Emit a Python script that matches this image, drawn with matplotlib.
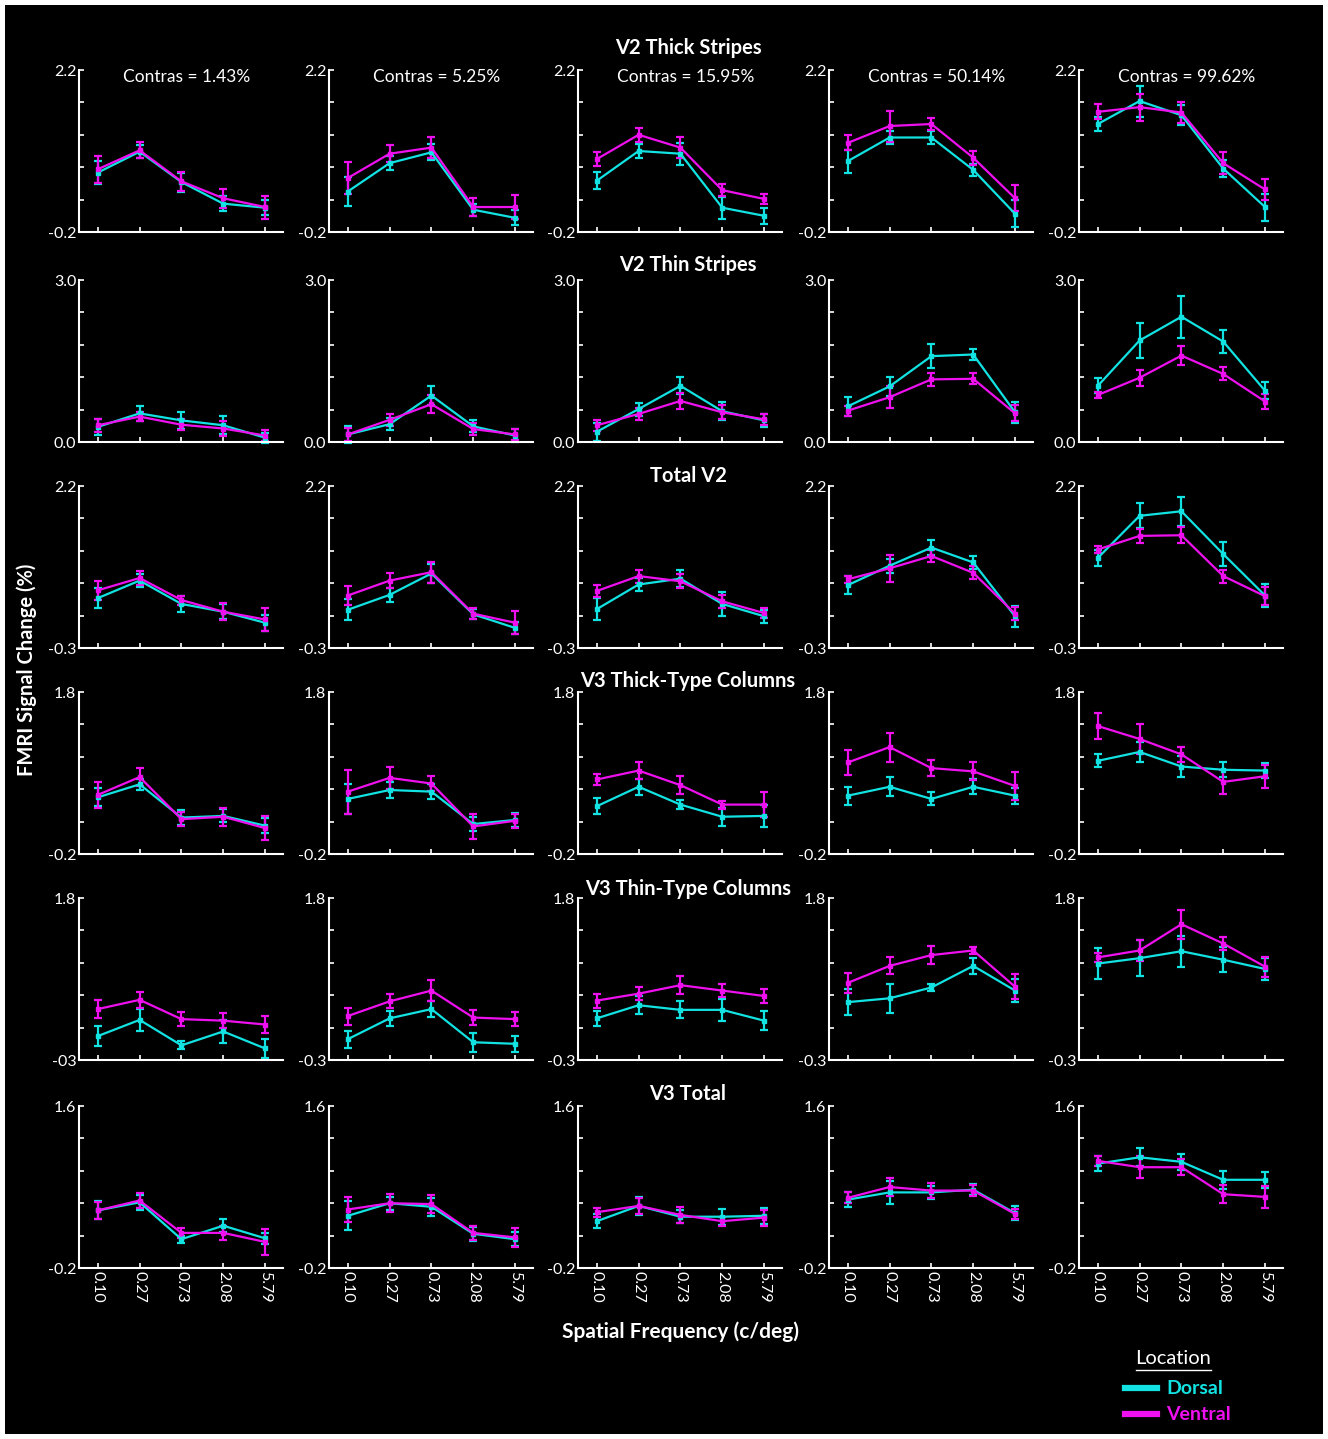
import numpy as np
import matplotlib
matplotlib.use('Agg')
import matplotlib.pyplot as plt
from matplotlib.patches import Rectangle
from matplotlib.lines import Line2D

plt.rcParams['font.family'] = ['Lato', 'DejaVu Sans']

# --------------------- data ---------------------
FREQ_LABELS = ['0.10', '0.27', '0.73', '2.08', '5.79']
CONTRASTS = ['1.43%', '5.25%', '15.95%', '50.14%', '99.62%']
ROW_TITLES = ['V2 Thick Stripes', 'V2 Thin Stripes', 'Total V2',
              'V3 Thick-Type Columns', 'V3 Thin-Type Columns', 'V3 Total']
Y_LIMITS = [(-0.2, 2.2), (0.0, 3.0), (-0.3, 2.2), (-0.2, 1.8), (-0.3, 1.8), (-0.2, 1.6)]
Y_LABELS = [('-0.2', '2.2'), ('0.0', '3.0'), ('-0.3', '2.2'),
            ('-0.2', '1.8'), ('-0.3', '1.8'), ('-0.2', '1.6')]

# one row per contrast, one value per spatial frequency
V2_THICK_DORSAL = [[0.68, 0.99, 0.54, 0.22, 0.16],
                   [0.40, 0.82, 0.98, 0.13, 0.01],
                   [0.56, 1.00, 0.96, 0.16, 0.04],
                   [0.85, 1.20, 1.20, 0.72, 0.07],
                   [1.40, 1.74, 1.53, 0.74, 0.17]]
V2_THICK_DORSAL_ERR = [[0.17, 0.10, 0.14, 0.11, 0.11],
                       [0.22, 0.10, 0.12, 0.09, 0.11],
                       [0.13, 0.11, 0.16, 0.16, 0.12],
                       [0.17, 0.09, 0.10, 0.09, 0.20],
                       [0.11, 0.23, 0.15, 0.12, 0.20]]
V2_THICK_VENTRAL = [[0.73, 1.01, 0.55, 0.30, 0.17],
                    [0.60, 0.96, 1.05, 0.17, 0.17],
                    [0.88, 1.24, 1.05, 0.42, 0.29],
                    [1.12, 1.37, 1.40, 0.90, 0.30],
                    [1.58, 1.65, 1.57, 0.82, 0.43]]
V2_THICK_VENTRAL_ERR = [[0.20, 0.12, 0.14, 0.14, 0.17],
                        [0.23, 0.13, 0.16, 0.13, 0.18],
                        [0.10, 0.10, 0.16, 0.09, 0.08],
                        [0.11, 0.23, 0.09, 0.10, 0.19],
                        [0.11, 0.20, 0.16, 0.16, 0.16]]

V2_THIN_DORSAL = [[0.28, 0.53, 0.40, 0.31, 0.08],
                  [0.14, 0.33, 0.86, 0.29, 0.12],
                  [0.19, 0.61, 1.04, 0.57, 0.40],
                  [0.66, 1.03, 1.59, 1.62, 0.55],
                  [1.04, 1.88, 2.32, 1.86, 0.95]]
V2_THIN_DORSAL_ERR = [[0.15, 0.14, 0.15, 0.17, 0.09],
                      [0.15, 0.11, 0.18, 0.11, 0.12],
                      [0.17, 0.12, 0.16, 0.17, 0.12],
                      [0.18, 0.17, 0.22, 0.10, 0.20],
                      [0.14, 0.33, 0.39, 0.22, 0.16]]
V2_THIN_VENTRAL = [[0.31, 0.47, 0.32, 0.25, 0.12],
                   [0.14, 0.41, 0.70, 0.24, 0.14],
                   [0.31, 0.52, 0.76, 0.55, 0.42],
                   [0.58, 0.83, 1.16, 1.17, 0.53],
                   [0.87, 1.19, 1.60, 1.26, 0.75]]
V2_THIN_VENTRAL_ERR = [[0.12, 0.08, 0.10, 0.13, 0.11],
                       [0.12, 0.11, 0.17, 0.11, 0.10],
                       [0.10, 0.11, 0.14, 0.13, 0.10],
                       [0.09, 0.20, 0.12, 0.10, 0.15],
                       [0.06, 0.15, 0.17, 0.12, 0.13]]

V2_TOTAL_DORSAL = [[0.47, 0.74, 0.38, 0.26, 0.09],
                   [0.29, 0.52, 0.85, 0.22, 0.01],
                   [0.30, 0.68, 0.77, 0.38, 0.19],
                   [0.67, 0.97, 1.25, 1.02, 0.19],
                   [1.09, 1.74, 1.81, 1.15, 0.51]]
V2_TOTAL_DORSAL_ERR = [[0.15, 0.10, 0.12, 0.12, 0.12],
                       [0.16, 0.11, 0.15, 0.08, 0.09],
                       [0.17, 0.10, 0.13, 0.18, 0.10],
                       [0.14, 0.11, 0.12, 0.10, 0.16],
                       [0.13, 0.19, 0.22, 0.19, 0.18]]
V2_TOTAL_VENTRAL = [[0.59, 0.78, 0.44, 0.26, 0.14],
                    [0.51, 0.74, 0.87, 0.23, 0.09],
                    [0.58, 0.81, 0.73, 0.42, 0.24],
                    [0.76, 0.93, 1.12, 0.86, 0.23],
                    [1.22, 1.43, 1.44, 0.81, 0.50]]
V2_TOTAL_VENTRAL_ERR = [[0.15, 0.11, 0.07, 0.13, 0.18],
                        [0.14, 0.11, 0.16, 0.08, 0.18],
                        [0.09, 0.10, 0.11, 0.10, 0.07],
                        [0.05, 0.21, 0.09, 0.10, 0.10],
                        [0.06, 0.11, 0.12, 0.10, 0.14]]

V3_THICK_DORSAL = [[0.50, 0.66, 0.25, 0.27, 0.15],
                   [0.48, 0.59, 0.57, 0.17, 0.22],
                   [0.39, 0.63, 0.41, 0.26, 0.27],
                   [0.52, 0.63, 0.48, 0.63, 0.52],
                   [0.95, 1.06, 0.88, 0.84, 0.83]]
V3_THICK_DORSAL_ERR = [[0.11, 0.07, 0.09, 0.08, 0.09],
                       [0.18, 0.10, 0.09, 0.09, 0.09],
                       [0.10, 0.10, 0.06, 0.11, 0.14],
                       [0.11, 0.12, 0.08, 0.09, 0.10],
                       [0.08, 0.12, 0.13, 0.09, 0.09]]
V3_THICK_VENTRAL = [[0.53, 0.75, 0.23, 0.26, 0.12],
                    [0.57, 0.74, 0.67, 0.14, 0.21],
                    [0.72, 0.83, 0.65, 0.41, 0.41],
                    [0.93, 1.12, 0.86, 0.82, 0.64],
                    [1.38, 1.22, 1.03, 0.69, 0.76]]
V3_THICK_VENTRAL_ERR = [[0.16, 0.11, 0.09, 0.11, 0.15],
                        [0.27, 0.14, 0.09, 0.15, 0.09],
                        [0.07, 0.10, 0.11, 0.05, 0.15],
                        [0.15, 0.18, 0.10, 0.11, 0.17],
                        [0.16, 0.19, 0.09, 0.15, 0.14]]

V3_THIN_DORSAL = [[0.01, 0.22, -0.11, 0.07, -0.15],
                  [-0.03, 0.24, 0.36, -0.07, -0.09],
                  [0.24, 0.41, 0.35, 0.35, 0.21],
                  [0.45, 0.50, 0.64, 0.92, 0.60],
                  [0.95, 1.02, 1.11, 1.00, 0.88]]
V3_THIN_DORSAL_ERR = [[0.13, 0.14, 0.05, 0.15, 0.12],
                      [0.11, 0.10, 0.10, 0.12, 0.10],
                      [0.10, 0.12, 0.11, 0.14, 0.12],
                      [0.17, 0.19, 0.04, 0.10, 0.15],
                      [0.20, 0.23, 0.20, 0.16, 0.14]]
V3_THIN_VENTRAL = [[0.36, 0.48, 0.23, 0.21, 0.16],
                   [0.27, 0.46, 0.60, 0.25, 0.23],
                   [0.47, 0.56, 0.67, 0.60, 0.53],
                   [0.70, 0.92, 1.06, 1.12, 0.65],
                   [1.03, 1.12, 1.46, 1.21, 0.91]]
V3_THIN_VENTRAL_ERR = [[0.12, 0.10, 0.09, 0.10, 0.11],
                       [0.11, 0.09, 0.14, 0.10, 0.09],
                       [0.09, 0.08, 0.12, 0.08, 0.09],
                       [0.13, 0.11, 0.12, 0.05, 0.16],
                       [0.06, 0.14, 0.19, 0.09, 0.13]]

V3_TOTAL_DORSAL = [[0.44, 0.53, 0.12, 0.27, 0.13],
                   [0.38, 0.52, 0.48, 0.18, 0.12],
                   [0.32, 0.49, 0.37, 0.37, 0.38],
                   [0.56, 0.64, 0.64, 0.67, 0.41],
                   [0.96, 1.03, 0.98, 0.78, 0.78]]
V3_TOTAL_DORSAL_ERR = [[0.10, 0.08, 0.04, 0.07, 0.06],
                       [0.16, 0.07, 0.10, 0.08, 0.08],
                       [0.08, 0.10, 0.07, 0.09, 0.09],
                       [0.08, 0.13, 0.07, 0.06, 0.08],
                       [0.08, 0.10, 0.09, 0.10, 0.09]]
V3_TOTAL_VENTRAL = [[0.44, 0.55, 0.19, 0.19, 0.09],
                    [0.45, 0.52, 0.51, 0.19, 0.14],
                    [0.42, 0.49, 0.39, 0.32, 0.36],
                    [0.58, 0.70, 0.66, 0.66, 0.40],
                    [0.99, 0.92, 0.92, 0.62, 0.59]]
V3_TOTAL_VENTRAL_ERR = [[0.09, 0.08, 0.06, 0.08, 0.14],
                        [0.14, 0.10, 0.10, 0.08, 0.11],
                        [0.05, 0.09, 0.09, 0.05, 0.09],
                        [0.06, 0.10, 0.08, 0.06, 0.06],
                        [0.06, 0.12, 0.09, 0.10, 0.12]]

ROWS = [
    (V2_THICK_DORSAL, V2_THICK_DORSAL_ERR, V2_THICK_VENTRAL, V2_THICK_VENTRAL_ERR),
    (V2_THIN_DORSAL, V2_THIN_DORSAL_ERR, V2_THIN_VENTRAL, V2_THIN_VENTRAL_ERR),
    (V2_TOTAL_DORSAL, V2_TOTAL_DORSAL_ERR, V2_TOTAL_VENTRAL, V2_TOTAL_VENTRAL_ERR),
    (V3_THICK_DORSAL, V3_THICK_DORSAL_ERR, V3_THICK_VENTRAL, V3_THICK_VENTRAL_ERR),
    (V3_THIN_DORSAL, V3_THIN_DORSAL_ERR, V3_THIN_VENTRAL, V3_THIN_VENTRAL_ERR),
    (V3_TOTAL_DORSAL, V3_TOTAL_DORSAL_ERR, V3_TOTAL_VENTRAL, V3_TOTAL_VENTRAL_ERR),
]

# --------------------- layout (pixels) ---------------------
W, H = 1328, 1439
CYAN = '#12E2E2'
MAGENTA = '#EE10EE'
COL_LEFT = [79, 329, 578, 829, 1079]
ROW_TOP = [70, 280, 486, 692, 898, 1106]
AX_W, AX_H = 204, 162
TITLE_Y = [48, 265, 476, 681, 889, 1094]


def fx(px):
    return px / W


def fy(py):
    return 1 - py / H


fig = plt.figure(figsize=(W / 100, H / 100), dpi=100, facecolor='white')
fig.add_artist(Rectangle((fx(5), fy(1434)), fx(1318), 1429 / H,
                         transform=fig.transFigure, facecolor='black',
                         edgecolor='none', zorder=-10))

x = np.arange(len(FREQ_LABELS))
for r, (d, de, v, ve) in enumerate(ROWS):
    lo, hi = Y_LIMITS[r]
    for c in range(5):
        ax = fig.add_axes([fx(COL_LEFT[c]), fy(ROW_TOP[r] + AX_H), fx(AX_W), AX_H / H])
        ax.set_facecolor('none')
        for yy, ee, col in ((d[c], de[c], CYAN), (v[c], ve[c], MAGENTA)):
            ax.errorbar(x, yy, yerr=ee, color=col, lw=1.6, elinewidth=1.6,
                        capsize=3.2, capthick=1.6, marker='s', ms=3.2, clip_on=False)
        ax.set_xlim(-0.45, 4.43)
        ax.set_ylim(lo, hi)
        for s in ('top', 'right'):
            ax.spines[s].set_visible(False)
        for s in ('left', 'bottom'):
            ax.spines[s].set_color('white')
            ax.spines[s].set_linewidth(1.5)
        ax.set_yticks(np.linspace(lo, hi, 6))
        labels = [''] * 6
        labels[0], labels[-1] = Y_LABELS[r]
        if r == 4 and c == 0:
            labels[0] = '-03'
        ax.set_yticklabels(labels)
        ax.set_xticks(x)
        if r == len(ROWS) - 1:
            ax.set_xticklabels(FREQ_LABELS, rotation=-90, fontsize=12)
        else:
            ax.set_xticklabels([])
        ax.tick_params(direction='in', length=3.5, width=1.2, colors='white',
                       labelsize=11.5, pad=2)
        if r == 0:
            ax.text(0.53, 0.955, 'Contras = ' + CONTRASTS[c], transform=ax.transAxes,
                    ha='center', va='center', color='white', fontsize=12.5)
    fig.text(fx(688), fy(TITLE_Y[r]), ROW_TITLES[r], ha='center', va='center',
             color='white', fontsize=14.5, fontweight='bold')

fig.text(fx(27), fy(670), 'FMRI Signal Change (%)', rotation=90, ha='center',
         va='center', color='white', fontsize=14.5, fontweight='bold')
fig.text(fx(680), fy(1332), 'Spatial Frequency (c/deg)', ha='center', va='center',
         color='white', fontsize=15, fontweight='bold')

# legend
fig.text(fx(1173), fy(1358), 'Location', ha='center', va='center', color='white', fontsize=14.5)
fig.add_artist(Line2D([fx(1136), fx(1211)], [fy(1370), fy(1370)], color='white', lw=1))
for name, col, yy in (('Dorsal', CYAN, 1388), ('Ventral', MAGENTA, 1414)):
    fig.add_artist(Line2D([fx(1125), fx(1157)], [fy(yy), fy(yy)], color=col, lw=4.5))
    fig.text(fx(1166), fy(yy), name, ha='left', va='center', color=col,
             fontsize=14, fontweight='bold')

fig.savefig('out.png', dpi=100, facecolor='white')
